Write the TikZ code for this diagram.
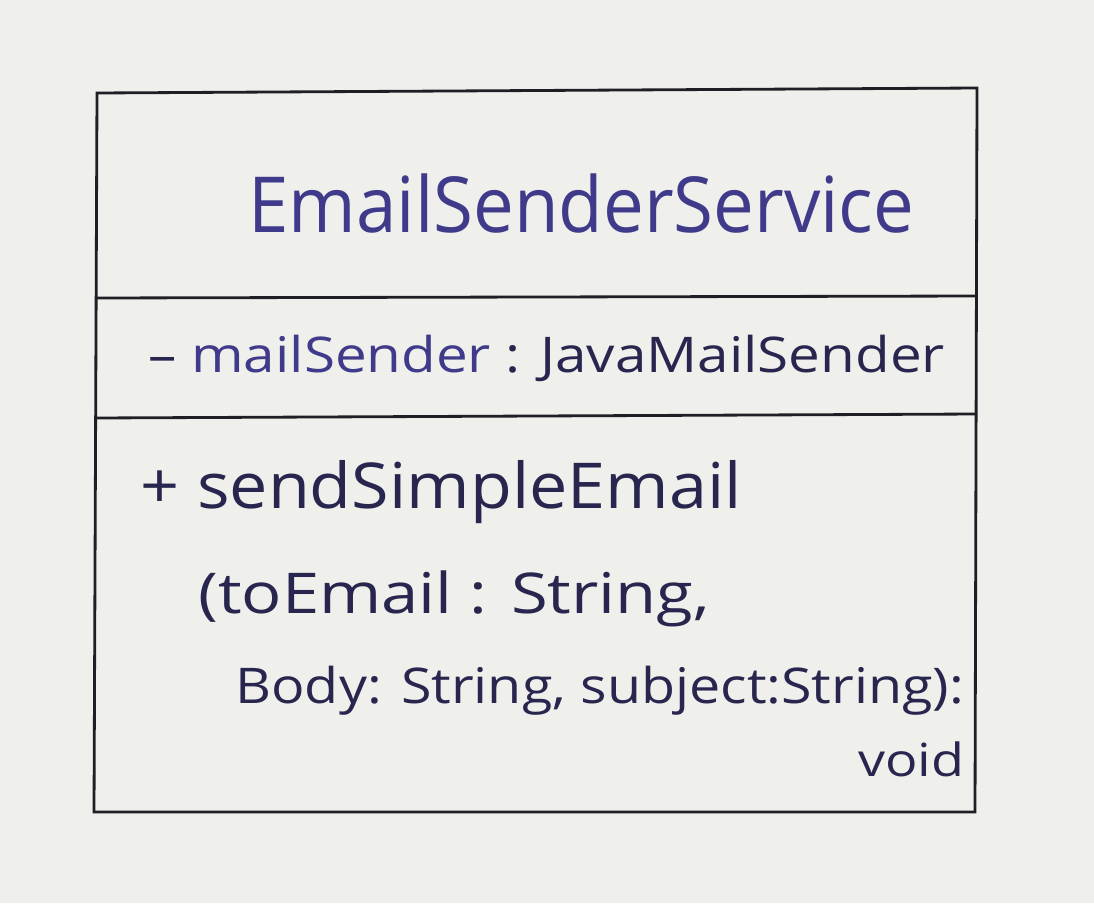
\documentclass[tikz,border=0pt]{standalone}
\usepackage{fontspec}
\setmainfont{Open Sans}
\definecolor{paper}{HTML}{EFEFEC}
\definecolor{inkblue}{HTML}{3F3A8A}
\definecolor{inkdark}{HTML}{28264E}
\definecolor{inkblack}{HTML}{1E1E24}
\begin{document}
\begin{tikzpicture}[x=0.02cm,y=-0.02cm,
  box/.style={draw=inkblack,line width=1.6pt},
  lbl/.style={anchor=base west,inner sep=0pt}]
\fill[paper] (0,0) rectangle (1094,903);
\useasboundingbox (0,0) rectangle (1094,903);
\coordinate (tl) at (97,93);
\coordinate (tr) at (977,88);
\coordinate (br) at (975,812);
\coordinate (bl) at (94,812);
\draw[box] (tl) -- (tr) -- (br) -- (bl) -- cycle;
\coordinate (d1l) at (95,298);
\coordinate (d1r) at (976,296);
\coordinate (d2l) at (95,418);
\coordinate (d2r) at (976,414);
\draw[box] (d1l) -- (d1r);
\draw[box] (d2l) -- (d2r);
\node[lbl,text=inkblue,font=\fontsize{44}{50}\selectfont] (title) at (248,232) {\scalebox{0.94}[1]{EmailSenderService}};
\node[lbl,text=inkdark,font=\fontsize{28}{32}\selectfont] (attr) at (148,372) {\scalebox{1.15}[1]{– \textcolor{inkblue}{mailSender} : JavaMailSender}};
\node[lbl,text=inkdark,font=\fontsize{36}{40}\selectfont] (m1) at (140,508) {\scalebox{1.08}[1]{+ sendSimpleEmail}};
\node[lbl,text=inkdark,font=\fontsize{32}{36}\selectfont] (m2) at (198,613) {\scalebox{1.19}[1]{(toEmail : String,}};
\node[lbl,text=inkdark,font=\fontsize{28}{32}\selectfont] (m3) at (235,703) {\scalebox{1.13}[1]{Body: String, subject:String):}};
\node[lbl,text=inkdark,font=\fontsize{26}{30}\selectfont] (m4) at (858,776) {\scalebox{1.18}[1]{void}};
\end{tikzpicture}
\end{document}
